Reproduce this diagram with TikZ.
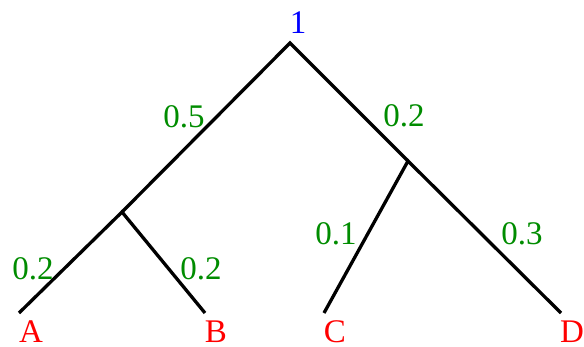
\documentclass[tikz,border=0pt]{standalone}
\usepackage{fontspec}
\setmainfont{Liberation Serif}
\definecolor{edgegreen}{rgb}{0,0.55,0}
\begin{document}
\begin{tikzpicture}[x=1pt,y=-1pt,
  edge/.style={line width=3.3pt,black},
  lbl/.style={inner sep=0pt,anchor=base,font=\fontsize{33}{38}\selectfont},
  wlbl/.style={lbl,text=edgegreen},
  leaf/.style={lbl,text=red}]
\useasboundingbox (0,0) rectangle (584,347);
\coordinate (r) at (290,43);
\coordinate (n1) at (122,212);
\coordinate (n2) at (408,161);
\coordinate (a) at (19,313);
\coordinate (b) at (205,313);
\coordinate (c) at (324,313);
\coordinate (d) at (561,313);
\draw[edge] (n1) -- (r) -- (n2);
\draw[edge] (a) -- (n1) -- (b);
\draw[edge] (c) -- (n2) -- (d);
\node[lbl,text=blue] (rl) at (298,34) {1};
\node[wlbl] (w1) at (184,128) {0.5};
\node[wlbl] (w2) at (404,127) {0.2};
\node[wlbl] (w3) at (33,280) {0.2};
\node[wlbl] (w4) at (201,280) {0.2};
\node[wlbl] (w5) at (336,245) {0.1};
\node[wlbl] (w6) at (522,245) {0.3};
\node[leaf] (la) at (31,343) {A};
\node[leaf] (lb) at (216,343) {B};
\node[leaf] (lc) at (335,343) {C};
\node[leaf] (ld) at (572,343) {D};
\end{tikzpicture}
\end{document}
